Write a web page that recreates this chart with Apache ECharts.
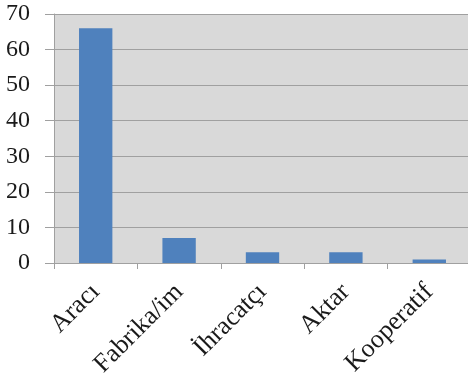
<!DOCTYPE html>
<html><head><meta charset="utf-8">
<script src="https://cdn.jsdelivr.net/npm/echarts@6/dist/echarts.min.js"></script>
<style>html,body{margin:0;padding:0;background:#fff}#c{width:468px;height:383px}</style>
</head><body><div id="c"></div>
<script>
const categories = ['Aracı', 'Fabrika/im', 'İhracatçı', 'Aktar', 'Kooperatif'];
const values = [66, 7, 3, 3, 1];
const yTicks = [0, 10, 20, 30, 40, 50, 60, 70];

const FONT = '"Liberation Serif", "Times New Roman", serif';
const chart = echarts.init(document.getElementById('c'));
chart.setOption({
  animation: false,
  grid: {left: 54, top: 14, right: -3, bottom: 120, show: true, backgroundColor: '#d9d9d9', borderWidth: 0, outerBoundsMode: 'none', containLabel: false},
  xAxis: {
    type: 'category', data: categories,
    axisLine: {lineStyle: {color: '#a0a0a0', width: 1}},
    axisTick: {show: true, length: 6, lineStyle: {color: '#a0a0a0'}},
    axisLabel: {rotate: 45, margin: 25, color: '#1a1a1a', fontFamily: FONT, fontSize: 26}
  },
  yAxis: {
    type: 'value', min: yTicks[0], max: yTicks[yTicks.length - 1], interval: 10,
    axisLine: {show: true, lineStyle: {color: '#a0a0a0'}},
    axisTick: {show: true, length: 9, lineStyle: {color: '#a0a0a0'}},
    splitLine: {lineStyle: {color: '#a0a0a0', width: 1}},
    axisLabel: {margin: 24, color: '#1a1a1a', fontFamily: FONT, fontSize: 24}
  },
  series: [{
    type: 'bar', data: values, barWidth: '40%',
    itemStyle: {color: '#4f81bd'}
  }]
});
</script></body></html>
